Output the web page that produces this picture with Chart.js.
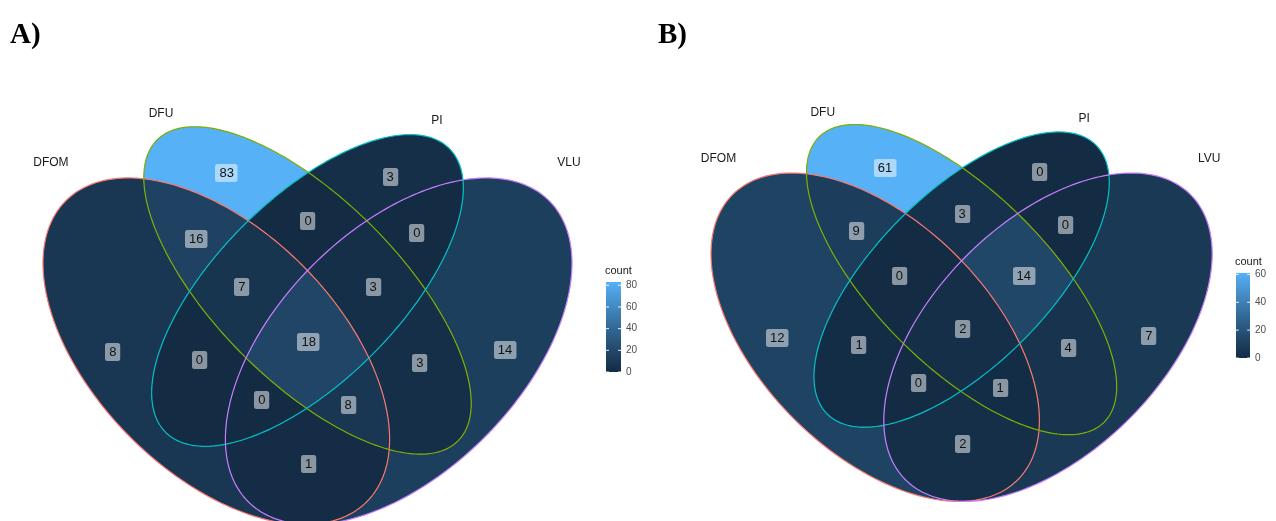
<!DOCTYPE html>
<html>
<head>
<meta charset="utf-8">
<script src="https://cdn.jsdelivr.net/npm/chart.js@4/dist/chart.umd.min.js"></script>
<style>
  html,body{margin:0;padding:0;background:#fff;}
  body{width:1276px;height:521px;overflow:hidden;position:relative;}
  .panel{position:absolute;top:0;height:521px;}
  canvas{display:block;}
</style>
</head>
<body>
<div class="panel" style="left:0;width:640px"><canvas id="cA" width="640" height="521"></canvas></div>
<div class="panel" style="left:640px;width:636px"><canvas id="cB" width="636" height="521"></canvas></div>
<script>
// ---------------- DATA ----------------
const SETS_A = ['DFOM', 'DFU', 'PI', 'VLU'];
const SETS_B = ['DFOM', 'DFU', 'PI', 'LVU'];
// regions: digits = sets (1..4) the exclusive region belongs to
const REGIONS = ['1', '2', '3', '4', '12', '13', '14', '23', '24', '34', '123', '124', '134', '234', '1234'];
const COUNTS_A = [8, 83, 3, 14, 16, 0, 1, 0, 3, 0, 7, 8, 0, 3, 18];
const COUNTS_B = [12, 61, 0, 7, 9, 1, 2, 3, 4, 0, 0, 1, 0, 14, 2];
const TICKS_A = [0, 20, 40, 60, 80];
const TICKS_B = [0, 20, 40, 60];
const LEGEND_TITLE = 'count';

// ---------------- GEOMETRY / LAYOUT ----------------
// ellipse parameters (x0, y0, a, b, rotation deg) of the 4-set ellipse Venn layout
const ELLIPSES = [
  [0.35, 0.47, 0.35, 0.20, 135],
  [0.50, 0.57, 0.35, 0.15, 135],
  [0.50, 0.57, 0.33, 0.15, 45],
  [0.65, 0.47, 0.35, 0.20, 45]
];
// label anchor of each region (same order as REGIONS), in layout units
const LABEL_POS = [
  [0.180, 0.469], [0.367, 0.763], [0.636, 0.757], [0.825, 0.472],
  [0.317, 0.655], [0.322, 0.456], [0.502, 0.285], [0.501, 0.684],
  [0.685, 0.451], [0.680, 0.665], [0.392, 0.576], [0.567, 0.382],
  [0.425, 0.390], [0.608, 0.576], [0.502, 0.485]
];
const SET_LABEL_POS = [[0.078, 0.78], [0.259, 0.86], [0.713, 0.85], [0.93, 0.78]];
const EDGE_COLORS = ['#F8766D', '#7CAE00', '#00BFC4', '#C77CFF'];
const LOW = '#132B43', HIGH = '#56B1F7';

// ---------------- colour (Lab interpolation like ggplot) ----------------
function hex2rgb(h){return [1,3,5].map(i=>parseInt(h.substr(i,2),16));}
function lin(c){c/=255;return c<=0.04045?c/12.92:Math.pow((c+0.055)/1.055,2.4);}
function delin(c){const v=c<=0.0031308?12.92*c:1.055*Math.pow(c,1/2.4)-0.055;return Math.round(Math.max(0,Math.min(1,v))*255);}
function rgb2lab(rgb){
  const [r,g,b]=rgb.map(lin);
  const X=(0.4124*r+0.3576*g+0.1805*b)/0.95047, Y=0.2126*r+0.7152*g+0.0722*b, Z=(0.0193*r+0.1192*g+0.9505*b)/1.08883;
  const f=t=>t>0.008856?Math.cbrt(t):7.787*t+16/116;
  return [116*f(Y)-16, 500*(f(X)-f(Y)), 200*(f(Y)-f(Z))];
}
function lab2rgb([L,a,b]){
  const fy=(L+16)/116, fx=fy+a/500, fz=fy-b/200;
  const fi=t=>t*t*t>0.008856?t*t*t:(t-16/116)/7.787;
  const X=fi(fx)*0.95047, Y=fi(fy), Z=fi(fz)*1.08883;
  const r= 3.2406*X-1.5372*Y-0.4986*Z, g=-0.9689*X+1.8758*Y+0.0415*Z, bb=0.0557*X-0.2040*Y+1.0570*Z;
  return [delin(r),delin(g),delin(bb)];
}
const LAB_LO=rgb2lab(hex2rgb(LOW)), LAB_HI=rgb2lab(hex2rgb(HIGH));
function colourAt(t){
  t=Math.max(0,Math.min(1,t));
  const c=lab2rgb(LAB_LO.map((v,i)=>v+(LAB_HI[i]-v)*t));
  return `rgb(${c[0]},${c[1]},${c[2]})`;
}

// ---------------- helpers ----------------
function ellipsePath(e, xs, ys){
  const [x0,y0,a,b,deg]=e, t=deg*Math.PI/180, n=240;
  const p=new Path2D();
  for(let i=0;i<=n;i++){
    const th=2*Math.PI*i/n;
    const u=a*Math.cos(th), v=b*Math.sin(th);
    const X=x0+u*Math.cos(t)-v*Math.sin(t), Y=y0+u*Math.sin(t)+v*Math.cos(t);
    const px=xs.getPixelForValue(X), py=ys.getPixelForValue(Y);
    if(i===0)p.moveTo(px,py);else p.lineTo(px,py);
  }
  p.closePath();
  return p;
}
function roundRect(ctx,x,y,w,h,r){
  ctx.beginPath();
  ctx.moveTo(x+r,y);ctx.lineTo(x+w-r,y);ctx.arcTo(x+w,y,x+w,y+r,r);
  ctx.lineTo(x+w,y+h-r);ctx.arcTo(x+w,y+h,x+w-r,y+h,r);
  ctx.lineTo(x+r,y+h);ctx.arcTo(x,y+h,x,y+h-r,r);
  ctx.lineTo(x,y+r);ctx.arcTo(x,y,x+r,y,r);ctx.closePath();
}

const vennPlugin = {
  id: 'venn',
  beforeDatasetsDraw(chart){
    const o=chart.options.plugins.venn;
    const {ctx}=chart, xs=chart.scales.x, ys=chart.scales.y;
    const counts=chart.data.datasets[0].data.map(d=>d.count);
    const max=Math.max(...counts), min=Math.min(...counts);
    const paths=ELLIPSES.map(e=>ellipsePath(e,xs,ys));
    // region fills
    REGIONS.forEach((r,i)=>{
      ctx.save();
      for(let s=0;s<4;s++){
        if(r.includes(String(s+1))) ctx.clip(paths[s]);
        else{
          const p=new Path2D();p.rect(-20,-20,chart.width+40,chart.height+40);p.addPath(paths[s]);
          ctx.clip(p,'evenodd');
        }
      }
      ctx.fillStyle=colourAt((counts[i]-min)/(max-min));
      ctx.fillRect(0,0,chart.width,chart.height);
      ctx.restore();
    });
    // edges
    ctx.save();
    ctx.lineWidth=1.2;
    paths.forEach((p,s)=>{ctx.strokeStyle=EDGE_COLORS[s];ctx.stroke(p);});
    ctx.restore();
    // set labels
    ctx.save();
    ctx.font='12px "Liberation Sans", Arial, sans-serif';
    ctx.fillStyle='#1a1a1a';ctx.textAlign='center';ctx.textBaseline='middle';
    o.sets.forEach((name,s)=>{
      ctx.fillText(name, xs.getPixelForValue(SET_LABEL_POS[s][0]), ys.getPixelForValue(SET_LABEL_POS[s][1]));
    });
    ctx.restore();
    // region count labels
    ctx.save();
    ctx.font='13px "Liberation Sans", Arial, sans-serif';
    ctx.textAlign='center';ctx.textBaseline='middle';
    chart.data.datasets[0].data.forEach(d=>{
      const px=xs.getPixelForValue(d.x), py=ys.getPixelForValue(d.y);
      const txt=String(d.count), w=ctx.measureText(txt).width+8, h=18;
      roundRect(ctx,Math.round(px-w/2),Math.round(py-h/2),w,h,2.5);
      ctx.fillStyle='rgba(255,255,255,0.5)';ctx.fill();
      ctx.fillStyle='#111';ctx.fillText(txt,px,py+0.5);
    });
    ctx.restore();
    // colourbar legend
    const L=o.legend;
    ctx.save();
    const g=ctx.createLinearGradient(0,L.bottom,0,L.top);
    for(let k=0;k<=20;k++) g.addColorStop(k/20,colourAt(k/20));
    ctx.fillStyle=g;ctx.fillRect(L.x,L.top,L.w,L.bottom-L.top);
    ctx.font='11px "Liberation Sans", Arial, sans-serif';
    ctx.fillStyle='#1a1a1a';ctx.textAlign='left';ctx.textBaseline='alphabetic';
    ctx.fillText(LEGEND_TITLE,L.x-1,L.top-8);
    ctx.font='10px "Liberation Sans", Arial, sans-serif';
    ctx.fillStyle='#4d4d4d';ctx.textBaseline='middle';
    o.ticks.forEach(v=>{
      const py=L.bottom-(v-min)/(max-min)*(L.bottom-L.top);
      ctx.strokeStyle='rgba(255,255,255,0.9)';ctx.lineWidth=1;
      ctx.beginPath();ctx.moveTo(L.x,py);ctx.lineTo(L.x+L.w/5,py);
      ctx.moveTo(L.x+L.w*4/5,py);ctx.lineTo(L.x+L.w,py);ctx.stroke();
      ctx.fillText(String(v),L.x+L.w+5,py);
    });
    ctx.restore();
    // panel tag
    ctx.save();
    ctx.font='bold 29px "Liberation Serif", "Times New Roman", serif';
    ctx.fillStyle='#000';ctx.textBaseline='alphabetic';
    ctx.fillText(o.tag.text,o.tag.x,o.tag.y);
    ctx.restore();
  }
};

function makeChart(id, sets, counts, ticks, frame, legend, tag){
  const canvas=document.getElementById(id);
  const W=canvas.width, H=canvas.height;
  // frame: pixel = ox + value*unit (x), oy - value*unit (y)
  const xmin=-frame.ox/frame.unit, xmax=(W-frame.ox)/frame.unit;
  const ymax=frame.oy/frame.unit, ymin=(frame.oy-H)/frame.unit;
  const pts=REGIONS.map((r,i)=>({x:LABEL_POS[i][0],y:LABEL_POS[i][1],count:counts[i]}));
  return new Chart(canvas,{
    type:'scatter',
    data:{datasets:[{data:pts,pointRadius:0,pointHoverRadius:0,showLine:false}]},
    options:{
      responsive:false,animation:false,events:[],
      layout:{padding:0},
      scales:{
        x:{type:'linear',display:false,min:xmin,max:xmax},
        y:{type:'linear',display:false,min:ymin,max:ymax}
      },
      plugins:{legend:{display:false},tooltip:{enabled:false},
        venn:{sets,ticks,legend,tag}}
    },
    plugins:[vennPlugin]
  });
}

makeChart('cA', SETS_A, COUNTS_A, TICKS_A,
  {ox:3.5, unit:608, oy:637},
  {x:606, w:15, top:282, bottom:372},
  {text:'A)', x:10, y:43});
makeChart('cB', SETS_B, COUNTS_B, TICKS_B,
  {ox:33.6, unit:576, oy:607.9},
  {x:596, w:14, top:273, bottom:358},
  {text:'B)', x:18, y:43});
</script>
</body>
</html>
